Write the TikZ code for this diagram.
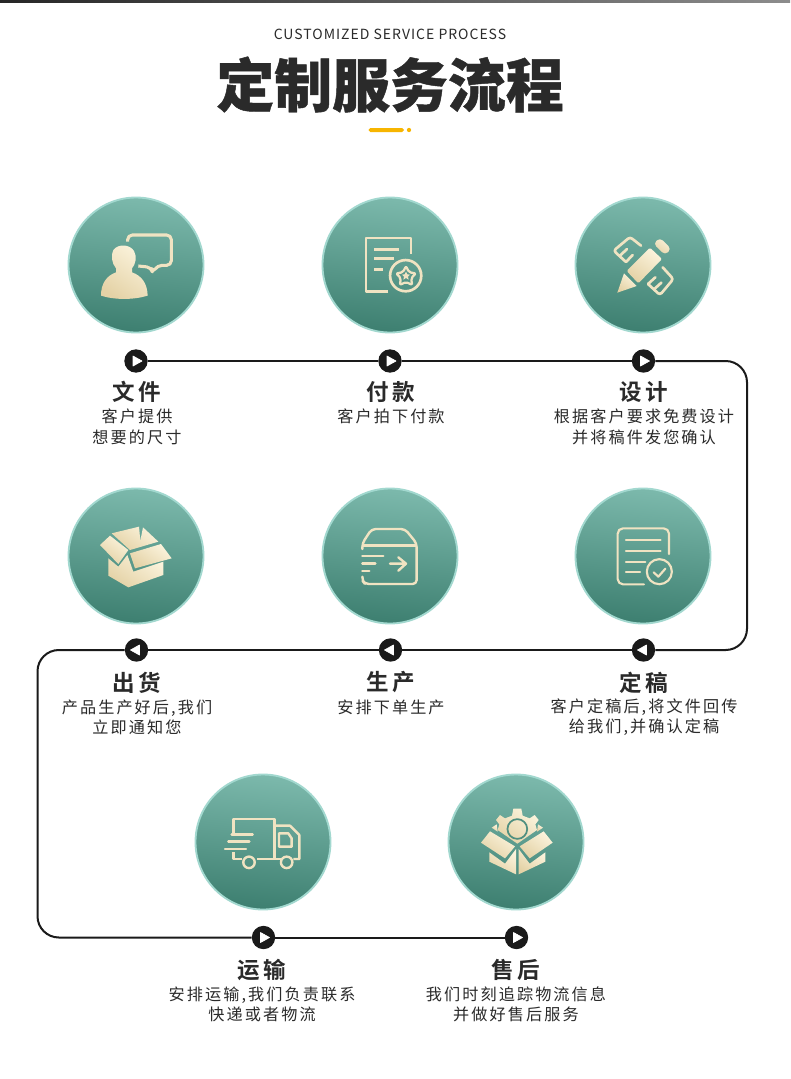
\documentclass[tikz,border=0pt]{standalone}
\usepackage{fontspec}
\setmainfont{Noto Sans CJK SC}
\newfontfamily\titlefont[FakeBold=0.8]{Noto Sans CJK SC Black}
\newfontfamily\labelfont[LetterSpace=13]{Noto Sans CJK SC}
\newfontfamily\headfont[LetterSpace=14]{Noto Sans CJK SC Bold}
\newfontfamily\enfont[LetterSpace=7]{Noto Sans CJK SC}
\definecolor{ink}{HTML}{2A2A2A}
\definecolor{dot}{HTML}{1A1A1A}
\definecolor{tealtop}{HTML}{7CB9AC}
\definecolor{tealbot}{HTML}{3D7F70}
\definecolor{tealrim}{HTML}{A2D8CF}
\definecolor{teal}{HTML}{4F8F80}
\definecolor{golda}{HTML}{FBF3DC}
\definecolor{goldb}{HTML}{E4D2A6}
\definecolor{goldl}{HTML}{F0E3C2}
\definecolor{amber}{HTML}{F7B500}
\tikzset{
  x=0.75pt,y=-0.75pt,
  disc/.style={circle,minimum size=101.25pt,inner sep=0pt,draw=tealrim,line width=1.4pt,top color=tealtop,bottom color=tealbot,shading angle=-6},
  marker/.style={circle,fill=dot,minimum size=17.5pt,inner sep=0pt},
  flow/.style={draw=dot,line width=1.5pt,rounded corners=16pt},
  tri/.style={fill=white,draw=white,line width=.5pt,line join=round},
  heading/.style={text=ink,inner sep=0pt,font=\headfont\fontsize{16.9}{20}\selectfont},
  desc/.style={text=ink,inner sep=0pt,align=center,font=\labelfont\fontsize{12.1}{15.5}\selectfont},
  zoomed/.style={x=0.25pt,y=-0.25pt},
  goldline/.style={draw=goldl,line width=2pt,line cap=round,line join=round,fill=none},
  goldfill/.style={left color=golda,right color=goldb,shading angle=-35,draw=none},
}
\begin{document}
\begin{tikzpicture}
\useasboundingbox (0,0) rectangle (790,1079);
\fill[white] (0,0) rectangle (790,1079);
\shade[left color=black!85,right color=black!45] (0,0) rectangle (790,2);

% title
\node[text=ink,inner sep=0pt,font=\enfont\fontsize{10.5}{12}\selectfont] (en) at (390,34) {CUSTOMIZED SERVICE PROCESS};
\node[text=ink,inner sep=0pt,font=\titlefont\fontsize{43.4}{50}\selectfont] (title) at (390,84.5) {定制服务流程};
\fill[amber,rounded corners=1.4pt] (368.5,128) rectangle (404,132);
\fill[amber] (409,130) circle (1.6pt);

% discs
\node[disc] (c1) at (136,265) {};
\node[disc] (c2) at (390,265) {};
\node[disc] (c3) at (643,265) {};
\node[disc] (c4) at (136,556) {};
\node[disc] (c5) at (390,556) {};
\node[disc] (c6) at (643,556) {};
\node[disc] (c7) at (263,842) {};
\node[disc] (c8) at (516,842) {};

% corners of the flow line
\coordinate (ne) at (747,361);
\coordinate (se) at (747,650);
\coordinate (nw) at (37.5,650);
\coordinate (sw) at (37.5,937.5);

\node[marker] (m1) at (136,361) {};
\node[marker] (m2) at (390,361) {};
\node[marker] (m3) at (643.5,361) {};
\node[marker] (m4) at (136.5,650) {};
\node[marker] (m5) at (390.5,650) {};
\node[marker] (m6) at (643.5,650) {};
\node[marker] (m7) at (263.5,937.5) {};
\node[marker] (m8) at (516.5,937.5) {};

\path[flow] (m1) -- (m2);
\path[flow] (m2) -- (m3);
\path[flow] (m3) -- (ne) -- (se) -- (m6);
\path[flow] (m6) -- (m5);
\path[flow] (m5) -- (m4);
\path[flow] (m4) -- (nw) -- (sw) -- (m7);
\path[flow] (m7) -- (m8);

\foreach \n in {m1,m2,m3,m7,m8}{\fill[tri] (\n.center) ++(-3,-5) -- ++(9,5) -- ++(-9,5) -- cycle;}
\foreach \n in {m4,m5,m6}{\fill[tri] (\n.center) ++(3,-5) -- ++(-9,5) -- ++(9,5) -- cycle;}

% labels
\node[heading] (t1) at (137,392) {文件};
\node[desc] (d1) at (137,426.8) {客户提供\\想要的尺寸};
\node[heading] (t2) at (391,392) {付款};
\node[desc] (d2) at (391,416.3) {客户拍下付款};
\node[heading] (t3) at (644,392) {设计};
\node[desc] (d3) at (644,426.8) {根据客户要求免费设计\\并将稿件发您确认};
\node[heading] (t4) at (137,682.5) {出货};
\node[desc] (d4) at (137,717.3) {产品生产好后,我们\\立即通知您};
\node[heading] (t5) at (391,682.5) {生产};
\node[desc] (d5) at (391,707.3) {安排下单生产};
\node[heading] (t6) at (644,682.5) {定稿};
\node[desc] (d6) at (644,717.3) {客户定稿后,将文件回传\\给我们,并确认定稿};
\node[heading] (t7) at (262,969.5) {运输};
\node[desc] (d7) at (262,1004.3) {安排运输,我们负责联系\\快递或者物流};
\node[heading] (t8) at (516,969.5) {售后};
\node[desc] (d8) at (516,1004.3) {我们时刻追踪物流信息\\并做好售后服务};

% icon 1: person and speech bubble
\begin{scope}[shift={(50,185)},zoomed]
  \draw[goldline,line width=2.3pt,line cap=butt,rounded corners=3.5pt] (233,170) -- (233,150) -- (364,150) -- (364,241) -- (322,241) -- (308,264) -- (304,247) -- (265,243);
  \shade[goldfill] (153,332) .. controls (153,295) and (170,272) .. (198,262) -- (198,250)
     .. controls (185,235) and (182,210) .. (190,195) .. controls (205,175) and (240,178) .. (252,198)
     .. controls (262,215) and (256,240) .. (246,250) -- (246,262)
     .. controls (275,272) and (292,295) .. (293,332)
     .. controls (250,345) and (195,345) .. (153,332) -- cycle;
\end{scope}

% icon 2: document with star
\begin{scope}[shift={(310,185)},zoomed]
  \draw[goldline,line cap=butt] (235,320) -- (168,320) -- (168,159) -- (303,159) -- (303,208);
  \draw[goldline,line width=2.2pt,line cap=butt] (193,193) -- (268,193) (193,220) -- (252,220) (193,253) -- (218,253);
  \draw[goldline] (287,272) circle (11.7pt);
  \draw[goldline,line width=1.7pt,rounded corners=1.5pt] (288,243) -- (297,262) -- (318,265) -- (303,280) -- (307,300) -- (288,291) -- (269,300) -- (273,280) -- (258,265) -- (279,262) -- cycle;
  \fill[goldl] (288,260) -- (292,268) -- (300,269) -- (294,275) -- (296,284) -- (288,279) -- (280,284) -- (282,275) -- (276,269) -- (284,268) -- cycle;
\end{scope}

% icon 3: pencil and ruler
\begin{scope}[shift={(310,185)},zoomed]
  \shade[goldfill] (922,323) -- (942,265) -- (980,303) -- cycle;
  \shade[goldfill,rounded corners=1pt] (950,258) -- (1020,188) -- (1056,222) -- (985,295) -- cycle;
  \shade[goldfill,rounded corners=3pt] (1030,176) -- (1050,158) -- (1084,192) -- (1065,210) -- cycle;
  \draw[goldline,line width=2pt,rounded corners=2pt] (993,182) -- (960,156) -- (911,197) -- (948,231);
  \draw[goldline,line width=2pt] (929,213) -- (951,192) (948,231) -- (968,210);
  \draw[goldline,line width=2pt,rounded corners=2pt] (1058,247) -- (1090,282) -- (1050,330) -- (1014,297);
  \draw[goldline,line width=2pt] (1014,297) -- (1036,277) (1032,313) -- (1054,293);
\end{scope}

% icon 4: open box
\begin{scope}[shift={(50,480)},zoomed]
  \shade[goldfill] (185,160) -- (267,140) -- (271,182) -- (279,142) -- (325,185) -- (240,210) -- cycle;
  \shade[goldfill] (150,195) -- (180,167) -- (235,210) -- (205,252) -- cycle;
  \shade[goldfill] (240,220) -- (333,192) -- (365,235) -- (255,265) -- cycle;
  \shade[goldfill] (175,235) -- (205,260) -- (232,225) -- (250,275) -- (340,245) -- (340,285) -- (235,322) -- (175,287) -- cycle;
\end{scope}

% icon 5: box with arrow
\begin{scope}[shift={(50,480)},zoomed]
  \draw[goldline,line width=1.8pt,rounded corners=3pt] (937,207) -- (937,190) -- (965,147) -- (1065,147) -- (1100,190) -- (1100,312) -- (945,312) -- (937,302) -- (937,290);
  \draw[goldline,line width=1.8pt,line cap=butt] (937,197) -- (1100,197);
  \draw[goldline,line width=1.8pt] (937,228) -- (1000,228) (937,251) -- (976,251) (937,273) -- (958,273);
  \draw[goldline,line width=1.8pt] (1020,251) -- (1067,251) (1045,232) -- (1068,251) -- (1045,272);
\end{scope}

% icon 6: document with check
\begin{scope}[shift={(560,480)},zoomed]
  \draw[goldline,line width=1.6pt,rounded corners=4pt] (327,222) -- (327,145) -- (173,145) -- (173,313) -- (252,313);
  \draw[goldline,line width=1.6pt] (198,181) -- (302,181) (198,214) -- (302,214) (198,245) -- (256,245) (198,276) -- (240,276);
  \draw[goldline,line width=1.6pt] (298,275) circle (9.4pt);
  \draw[goldline,line width=1.6pt] (281,277) -- (295,290) -- (316,266);
\end{scope}

% icon 7: truck
\begin{scope}[shift={(180,765)},zoomed]
  \draw[goldline,line width=1.8pt,line cap=butt] (160,205) -- (160,162) -- (283,162) -- (283,282) -- (232,282);
  \draw[goldline,line width=1.8pt,line cap=butt] (160,262) -- (160,282) -- (187,282);
  \draw[goldline,line width=1.8pt,line cap=butt] (283,182) -- (330,182) -- (358,210) -- (358,282) -- (340,282);
  \draw[goldline,line width=1.8pt,line cap=butt] (297,205) -- (325,205) -- (335,220) -- (335,245) -- (297,245) -- cycle;
  \draw[goldline,line width=1.8pt,line cap=butt] (302,282) -- (283,282);
  \draw[goldline,line width=1.8pt] (207,292) circle (4.3pt) (320,292) circle (4.3pt);
  \draw[goldline,line width=1.8pt] (155,208) -- (218,208) (145,230) -- (208,230) (135,252) -- (198,252);
\end{scope}

% icon 8: gear in a box
\begin{scope}[shift={(180,765)},zoomed]
  \shade[goldfill] (1000,131) -- (1024,131) -- (1028,152) -- (1049,160) -- (1064,150) -- (1076,165) -- (1066,178) -- (1071,195) -- (1012,236) -- (953,195) -- (958,178) -- (948,165) -- (960,150) -- (975,160) -- (996,152) -- cycle;
  \shade[goldfill] (935,188) -- (950,178) -- (953,200) -- cycle;
  \shade[goldfill] (1089,188) -- (1074,178) -- (1071,200) -- cycle;
  \draw[teal,line width=1.3pt] (1012,192) circle (7.4pt);
  \shade[goldfill] (903,233) -- (930,199) -- (1005,244) -- (975,280) -- cycle;
  \shade[goldfill] (1118,233) -- (1091,199) -- (1019,244) -- (1049,280) -- cycle;
  \shade[goldfill] (928,262) -- (975,296) -- (1008,252) -- (1008,328) -- (928,290) -- cycle;
  \shade[goldfill] (1016,252) -- (1049,296) -- (1096,262) -- (1096,290) -- (1016,328) -- cycle;
\end{scope}
\end{tikzpicture}
\end{document}
